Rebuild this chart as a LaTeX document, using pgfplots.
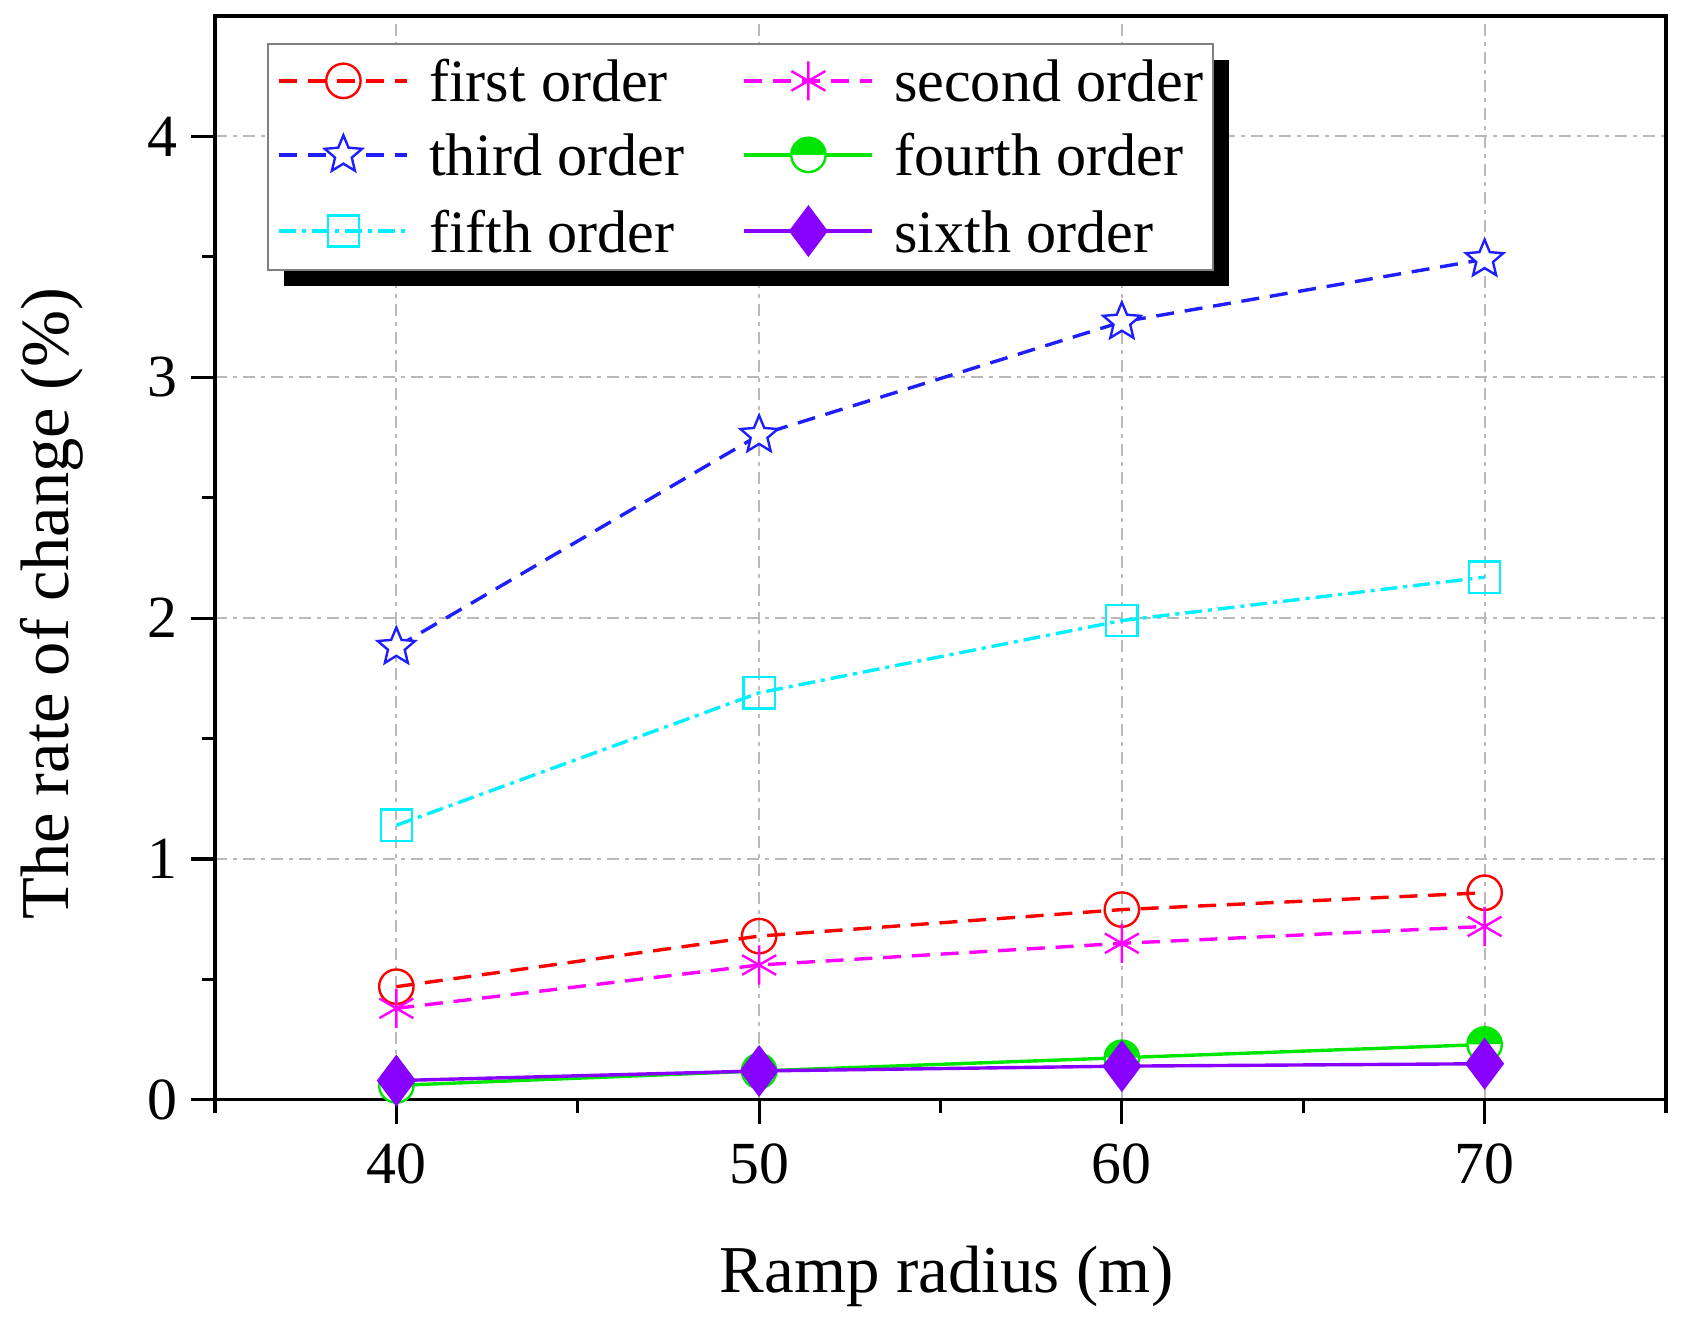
\documentclass[border=0pt]{standalone}
\usepackage{pgfplots}
\pgfplotsset{compat=1.18}
\usepackage{fontspec}
\setmainfont{Liberation Serif}
\usetikzlibrary{shadows}

\definecolor{cRed}{RGB}{255,0,0}
\definecolor{cMag}{RGB}{255,0,255}
\definecolor{cBlue}{RGB}{30,30,255}
\definecolor{cGreen}{RGB}{0,230,0}
\definecolor{cCyan}{RGB}{0,240,255}
\definecolor{cViolet}{RGB}{136,0,255}

\makeatletter
\tikzset{no preactions/.code={\let\tikz@preactions\pgfutil@empty}}
\makeatother

\pgfdeclareplotmark{ostar}{%
 \pgfpathmoveto{\pgfpointpolar{90}{\pgfplotmarksize}}%
 \pgfpathlineto{\pgfpointpolar{126}{0.45\pgfplotmarksize}}%
 \pgfpathlineto{\pgfpointpolar{162}{\pgfplotmarksize}}%
 \pgfpathlineto{\pgfpointpolar{198}{0.45\pgfplotmarksize}}%
 \pgfpathlineto{\pgfpointpolar{234}{\pgfplotmarksize}}%
 \pgfpathlineto{\pgfpointpolar{270}{0.45\pgfplotmarksize}}%
 \pgfpathlineto{\pgfpointpolar{306}{\pgfplotmarksize}}%
 \pgfpathlineto{\pgfpointpolar{342}{0.45\pgfplotmarksize}}%
 \pgfpathlineto{\pgfpointpolar{18}{\pgfplotmarksize}}%
 \pgfpathlineto{\pgfpointpolar{54}{0.45\pgfplotmarksize}}%
 \pgfpathclose
 \pgfusepathqfillstroke
}

\begin{document}
\begin{tikzpicture}
\begin{axis}[
  scale only axis, width=362.8bp, height=271bp,
  xmin=35, xmax=75, ymin=0, ymax=4.5,
  xtick={40,50,60,70}, ytick={0,1,2,3,4},
  minor xtick={35,45,55,65,75}, minor ytick={0.5,1.5,2.5,3.5},
  tick align=outside, xtick pos=bottom, ytick pos=left,
  major tick length=6bp, minor tick length=3.2bp,
  axis line style={line width=0.8bp},
  every tick/.style={black, line width=0.8bp},
  grid=major,
  major grid style={gray!55, line width=0.5bp, dash pattern=on 3bp off 1.5bp on 1bp off 1.5bp},
  /pgf/number format/assume math mode=true,
  ticklabel style={font=\fontsize{15}{18}\selectfont},
  xticklabel style={yshift=-1.5bp},
  xlabel={Ramp radius (m)}, ylabel={The rate of change (\%)},
  xlabel style={font=\fontsize{16.8}{20}\selectfont, at={([yshift=-48.25bp,xshift=1.5bp]axis description cs:0.5,0)}, anchor=base},
  ylabel style={font=\fontsize{17.2}{20}\selectfont, at={([xshift=-40.75bp]axis description cs:0,0.4576)}, anchor=center},
  legend columns=2,
  legend cell align=left,
  legend style={at={(axis description cs:0.0358,0.975)}, anchor=north west,
    draw=gray, fill=white,
    general shadow={fill=black, shadow xshift=4bp, shadow yshift=-4bp},
    font=\fontsize{15.1}{17}\selectfont,
    inner xsep=2.5bp, inner ysep=4bp,
    nodes={inner xsep=0pt, inner ysep=0pt, text height=10.5bp, text depth=0pt},
    /tikz/every odd column/.append style={column sep=5bp},
    /tikz/every even column/.append style={column sep=14.5bp},
    row sep=8bp},
  legend image code/.code={\draw[no preactions, mark repeat=2,mark phase=2] plot coordinates {(0bp,0bp) (16bp,0bp) (32bp,0bp)};},
]
\coordinate (SW) at (rel axis cs:0,0);
\coordinate (NE) at (rel axis cs:1,1);

\addplot[cRed, line width=0.85bp, dash pattern=on 4.5bp off 2.7bp, mark=o, mark size=4.3bp, mark options={solid, fill=white, line width=0.6bp}]
  coordinates {(40,0.47) (50,0.68) (60,0.79) (70,0.86)};
\addlegendentry{first order}
\addplot[cMag, line width=0.85bp, dash pattern=on 4.5bp off 2.7bp, mark=asterisk, mark size=4.9bp, mark options={solid, line width=0.6bp}]
  coordinates {(40,0.38) (50,0.56) (60,0.65) (70,0.72)};
\addlegendentry{second order}
\addplot[cBlue, line width=0.85bp, dash pattern=on 4.5bp off 2.7bp, mark=ostar, mark size=4.9bp, mark options={solid, fill=white, line width=0.6bp}]
  coordinates {(40,1.88) (50,2.76) (60,3.23) (70,3.49)};
\addlegendentry{third order}
\addplot[cGreen, line width=0.85bp, solid, mark=halfcircle*, mark size=4.3bp, mark options={solid, fill=cGreen, line width=0.6bp}]
  coordinates {(40,0.06) (50,0.12) (60,0.175) (70,0.23)};
\addlegendentry{fourth order}
\addplot[cCyan, line width=0.85bp, dash pattern=on 4.2bp off 1.5bp on 1bp off 1.5bp, mark=square, mark size=3.9bp, mark options={solid, fill=white, line width=0.6bp}]
  coordinates {(40,1.14) (50,1.69) (60,1.99) (70,2.17)};
\addlegendentry{fifth order}
\addplot[cViolet, line width=0.85bp, solid, mark=diamond*, mark size=5.8bp, mark options={solid, fill=cViolet}]
  coordinates {(40,0.08) (50,0.12) (60,0.14) (70,0.15)};
\addlegendentry{sixth order}
\end{axis}
\pgfresetboundingbox
\path[use as bounding box] ([shift={(-53.75bp,-57bp)}]SW) rectangle ([shift={(5bp,4bp)}]NE);
\end{tikzpicture}
\end{document}
